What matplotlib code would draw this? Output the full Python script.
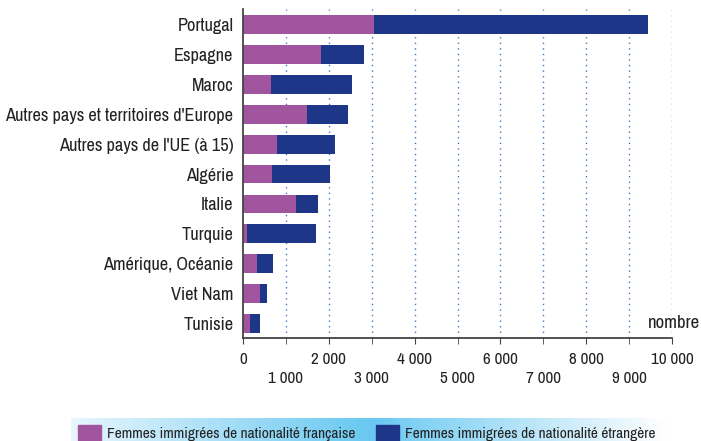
import numpy as np
import matplotlib.pyplot as plt
from matplotlib.patches import Rectangle

plt.rcParams['font.family'] = ['Liberation Sans Narrow', 'Arial Narrow', 'Archivo Narrow',
                               'Roboto Condensed', 'PT Sans Narrow', 'Liberation Sans', 'DejaVu Sans']

pays = ["Portugal", "Espagne", "Maroc", "Autres pays et territoires d'Europe",
        "Autres pays de l'UE (à 15)", "Algérie", "Italie", "Turquie",
        "Amérique, Océanie", "Viet Nam", "Tunisie"]
francaise = [3050, 1820, 650, 1490, 790, 680, 1235, 100, 335, 405, 170]
etrangere = [6380, 1000, 1890, 955, 1350, 1350, 515, 1590, 375, 160, 235]

c_fr = '#a1559f'
c_et = '#1d3687'
grid_c = '#3f78cc'
txt_c = '#222222'

fig = plt.figure(figsize=(7.01, 4.41), dpi=100)
ax = fig.add_axes([243/701, (441-338)/441, (672-243)/701, (338-9)/441])

y = np.arange(len(pays))[::-1]
ax.barh(y, francaise, height=0.63, color=c_fr, zorder=2)
ax.barh(y, etrangere, left=francaise, height=0.63, color=c_et, zorder=2)

for v in range(1000, 10001, 1000):
    ax.axvline(v, color=grid_c, linestyle=(0, (1, 3)), linewidth=1.0, zorder=1)

ax.set_xlim(0, 10000)
ax.set_ylim(-0.485, 10.52)
ax.set_yticks(y)
ax.set_yticklabels(pays, fontsize=13.2, color=txt_c)
ax.tick_params(axis='y', length=0, pad=7)

fmt = lambda v: f"{v:,}".replace(",", " ")
major = list(range(0, 10001, 2000))
minor = list(range(1000, 10000, 2000))
ax.set_xticks(major)
ax.set_xticklabels([fmt(v) for v in major], fontsize=12.3, color=txt_c)
ax.set_xticks(minor, minor=True)
ax.set_xticklabels([fmt(v) for v in minor], minor=True, fontsize=12.3, color=txt_c)
ax.tick_params(axis='x', which='major', length=4, pad=6, color='#444444')
ax.tick_params(axis='x', which='minor', length=4, pad=20, color='#444444')

for s in ['top', 'right']:
    ax.spines[s].set_visible(False)
for s in ['left', 'bottom']:
    ax.spines[s].set_color('#444444')
    ax.spines[s].set_linewidth(1.3)

fig.text(700/701, (441-323)/441, "nombre", ha='right', va='center', fontsize=13.5, color=txt_c)

# bande de légende en dégradé
band = fig.add_axes([71/701, 0, 630/701, 23/441])
t = np.linspace(0, 1, 400)[:, None]
left = np.array([232, 246, 253]) / 255
mid = np.array([105, 200, 241]) / 255
white = np.array([1.0, 1.0, 1.0])
cols = np.where(t < 0.475, left + (mid - left) * (t / 0.475),
                mid + (white - mid) * np.clip((t - 0.475) / 0.47, 0, 1))
band.imshow(cols[None, :, :], aspect='auto', extent=[0, 1, 0, 1])
band.set_axis_off()

fig.patches.append(Rectangle((78/701, 0), 23/701, 16/441, transform=fig.transFigure,
                             color=c_fr, zorder=5))
fig.patches.append(Rectangle((376/701, 0), 23/701, 16/441, transform=fig.transFigure,
                             color=c_et, zorder=5))
fig.text(107/701, 7/441, "Femmes immigrées de nationalité française", va='center',
         fontsize=11.1, color=txt_c, zorder=6)
fig.text(405/701, 7/441, "Femmes immigrées de nationalité étrangère", va='center',
         fontsize=11.1, color=txt_c, zorder=6)

fig.savefig('out.png', dpi=100)
